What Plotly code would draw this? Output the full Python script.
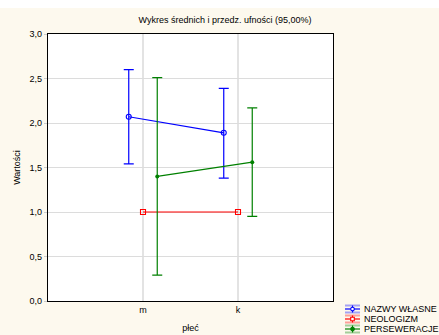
import plotly.graph_objects as go

categories = ["m", "k"]
series_names = ["NAZWY WŁASNE", "NEOLOGIZM", "PERSEWERACJE"]
means = {
    "NAZWY WŁASNE": [2.07, 1.89],
    "NEOLOGIZM": [1.00, 1.00],
    "PERSEWERACJE": [1.40, 1.56],
}
upper = {
    "NAZWY WŁASNE": [2.60, 2.39],
    "NEOLOGIZM": [1.00, 1.00],
    "PERSEWERACJE": [2.51, 2.17],
}
lower = {
    "NAZWY WŁASNE": [1.54, 1.38],
    "NEOLOGIZM": [1.00, 1.00],
    "PERSEWERACJE": [0.29, 0.95],
}
y_ticks = [0.0, 0.5, 1.0, 1.5, 2.0, 2.5, 3.0]

colors = {"NAZWY WŁASNE": "#0000ff", "NEOLOGIZM": "#ff0000", "PERSEWERACJE": "#008000"}
offsets = {"NAZWY WŁASNE": -0.15, "NEOLOGIZM": 0.0, "PERSEWERACJE": 0.15}
markers = {
    "NAZWY WŁASNE": dict(symbol="circle-open", size=5, line=dict(width=1.1)),
    "NEOLOGIZM": dict(symbol="square-open", size=5, line=dict(width=1.1)),
    "PERSEWERACJE": dict(symbol="circle", size=4),
}
legend_shape = {"NAZWY WŁASNE": "circle", "NEOLOGIZM": "rect", "PERSEWERACJE": "circle"}
legend_fill = {"NAZWY WŁASNE": False, "NEOLOGIZM": False, "PERSEWERACJE": True}

L, R, T, B, W, H = 48, 106, 34, 34, 439, 335
PW, PH = W - L - R, H - T - B


def px(x):
    return (x - L) / PW


def py(y):
    return (H - B - y) / PH


fig = go.Figure()
for name in series_names:
    xs = [i + 1 + offsets[name] for i in range(len(categories))]
    m = means[name]
    plus = [u - v for u, v in zip(upper[name], m)]
    minus = [v - l for v, l in zip(m, lower[name])]
    show_err = any(p > 0 for p in plus)
    fig.add_trace(go.Scatter(
        x=xs, y=m, name=name, mode="lines+markers", showlegend=False,
        line=dict(color=colors[name], width=1.2),
        marker=dict(color=colors[name], **markers[name]),
        error_y=dict(type="data", symmetric=False, array=plus, arrayminus=minus,
                     visible=show_err, color=colors[name], thickness=1.2, width=5),
    ))

shapes = [dict(type="rect", xref="paper", yref="paper", x0=-0.3, x1=1.5,
               y0=py(8), y1=py(-20), fillcolor="#ffffff", line=dict(width=0),
               layer="below")]
annotations = []
for i, name in enumerate(series_names):
    c = colors[name]
    yc = 309 + 10 * i
    x0, x1, xm = 345, 360, 352.5
    for dy in (-3.5, 3.5):
        shapes.append(dict(type="line", xref="paper", yref="paper", x0=px(x0), x1=px(x1),
                           y0=py(yc + dy), y1=py(yc + dy),
                           line=dict(color=c, width=2), opacity=0.35))
    shapes.append(dict(type="line", xref="paper", yref="paper", x0=px(x0), x1=px(x1),
                       y0=py(yc), y1=py(yc), line=dict(color=c, width=1.2)))
    shapes.append(dict(type="line", xref="paper", yref="paper", x0=px(xm), x1=px(xm),
                       y0=py(yc - 3.5), y1=py(yc + 3.5), line=dict(color=c, width=1.2)))
    r = 1.8
    shapes.append(dict(type=legend_shape[name], xref="paper", yref="paper",
                       x0=px(xm - r), x1=px(xm + r), y0=py(yc - r), y1=py(yc + r),
                       line=dict(color=c, width=1.1),
                       fillcolor=c if legend_fill[name] else "#ffffff"))
    annotations.append(dict(text=name, xref="paper", yref="paper", x=px(362), y=py(yc),
                            xanchor="left", yanchor="middle", showarrow=False,
                            font=dict(size=9)))

font = "Liberation Sans, Arial, sans-serif"
fig.update_layout(
    width=W, height=H,
    margin=dict(l=L, r=R, t=T, b=B, autoexpand=False),
    paper_bgcolor="#fdf9ee",
    plot_bgcolor="#ffffff",
    separators=",.",
    font=dict(family=font, size=9, color="#000000"),
    title=dict(text="Wykres średnich i przedz. ufności (95,00%)", xref="container",
               x=225 / W, xanchor="center", yref="container",
               y=1 - 20 / H, yanchor="middle", font=dict(size=9)),
    showlegend=False,
    xaxis=dict(range=[0, 3], tickvals=[1, 2], ticktext=categories, showgrid=True,
               gridcolor="#e3e3e3", gridwidth=1.6, showline=True, linecolor="#000000",
               linewidth=1.2, mirror=True, zeroline=False, ticks="", automargin=False,
               title=dict(text="płeć", font=dict(size=9), standoff=10)),
    yaxis=dict(range=[0, 3], tickvals=y_ticks, tickformat=".1f", showgrid=True,
               gridcolor="#dcdcdc", gridwidth=1.2, showline=True, linecolor="#000000",
               linewidth=1.2, mirror=True, zeroline=False, ticks="outside", ticklen=3,
               tickcolor="#cccccc", automargin=False,
               title=dict(text="Wartości", font=dict(size=9), standoff=7)),
    shapes=shapes,
    annotations=annotations,
)
fig.write_html("out.html")
